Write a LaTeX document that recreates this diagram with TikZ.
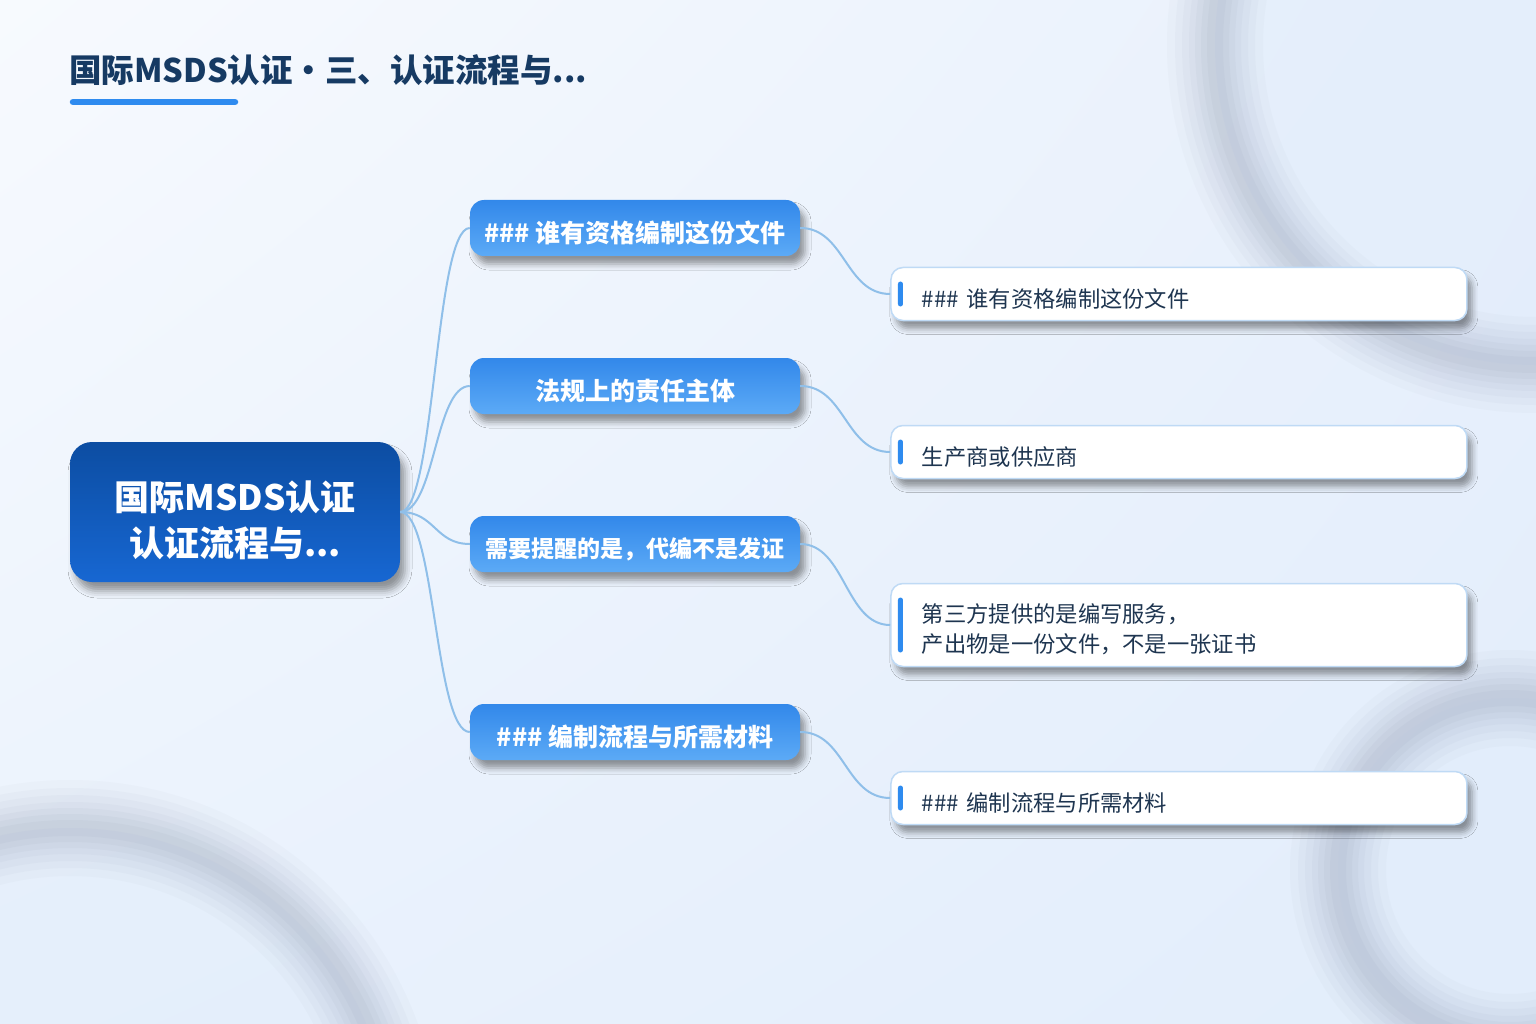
\documentclass[tikz,border=0pt]{standalone}
\usepackage{fontspec}
\setmainfont{Noto Sans CJK SC}
\usetikzlibrary{positioning,shadings,shadows.blur}
\definecolor{bgTL}{HTML}{F7FAFE}
\definecolor{bgTR}{HTML}{E8F0FC}
\definecolor{bgBL}{HTML}{EAF2FD}
\definecolor{bgBR}{HTML}{E2EDFB}
\definecolor{ringgray}{HTML}{8E9AAE}
\definecolor{ringfill}{HTML}{E2EDFB}
\definecolor{titleblue}{HTML}{163A63}
\definecolor{barblue}{HTML}{2E8BEF}
\definecolor{rootTop}{HTML}{0C4DA2}
\definecolor{rootBot}{HTML}{1767D2}
\definecolor{topicTop}{HTML}{3288EA}
\definecolor{topicBot}{HTML}{5CAAF6}
\definecolor{connblue}{HTML}{8FBFE9}
\definecolor{leafline}{HTML}{BFDAF5}
\definecolor{leaftext}{HTML}{1E3550}
\definecolor{accent}{HTML}{2E8BEF}
% move the ink of a node text down, keeping its box
\newcommand\lowered[2]{\raisebox{-#1}[\height][\depth]{#2}}

\begin{document}
\begin{tikzpicture}[x=1pt,y=-1pt,
   conn/.style={draw=connblue,line width=2pt},
   rootbox/.style={rounded corners=22pt,minimum width=330pt,minimum height=140pt,
     top color=rootTop,bottom color=rootBot,text=white,align=center,
     font=\bfseries\fontsize{35}{46}\selectfont,
     blur shadow={shadow xshift=5pt,shadow yshift=-9pt,shadow blur radius=7pt,shadow opacity=40}},
   topic/.style={rounded corners=14pt,minimum width=330pt,minimum height=56pt,inner sep=0pt,
     top color=topicTop,bottom color=topicBot,text=white,
     font=\bfseries\fontsize{25}{28}\selectfont,
     blur shadow={shadow xshift=5pt,shadow yshift=-8pt,shadow blur radius=6pt,shadow opacity=40}},
   leaf/.style={rounded corners=12pt,minimum width=576pt,minimum height=53pt,
     text width=514pt,inner xsep=31pt,inner ysep=6pt,align=left,
     fill=white,draw=leafline,line width=1.5pt,text=leaftext,
     font=\fontsize{22.3}{30}\selectfont,
     blur shadow={shadow xshift=5pt,shadow yshift=-8pt,shadow blur radius=6pt,shadow opacity=40},
     path picture={\fill[accent,rounded corners=2.5pt]
       ([xshift=7pt,yshift=-14pt]path picture bounding box.north west) rectangle
       ([xshift=12pt,yshift=14pt]path picture bounding box.south west);}}]

  % page and soft rings
  \useasboundingbox (0,0) rectangle (1536,1024);
  \clip (0,0) rectangle (1536,1024);
  \shade[upper left=bgTL,upper right=bgTR,lower left=bgBL,lower right=bgBR]
    (0,0) rectangle (1536,1024);
  \foreach \cx/\cy/\r in {1535/45/320, 70/1150/322, 1510/870/172}{
    \fill[ringfill,opacity=.6] (\cx,\cy) circle[radius=\r];
    \foreach \w/\o in {96/.04,80/.05,66/.055,52/.06,40/.07,28/.075,16/.08}
      \draw[ringgray,line width=\w pt,opacity=\o] (\cx,\cy) circle[radius=\r];
  }

  % title
  \node[anchor=west,inner sep=0pt,text=titleblue,font=\bfseries\fontsize{32.5}{36}\selectfont]
    (title) at (69,70) {国际MSDS认证・三、认证流程与...};
  \draw[barblue,line width=6.5pt,line cap=round] (73,102) -- (235,102);

  % root and topics
  \node[rootbox] (root) at (235,512)
    {\lowered{12pt}{\begin{tabular}{@{}c@{}}国际MSDS认证\\认证流程与...\end{tabular}}};
  \node[topic] (ta) at (635,228) {\lowered{5pt}{\#\#\# 谁有资格编制这份文件}};
  \node[topic] (tb) at (635,386) {\lowered{5pt}{法规上的责任主体}};
  \node[topic,font=\bfseries\fontsize{23}{28}\selectfont] (tc) at (635,544)
    {\lowered{5pt}{需要提醒的是，代编不是发证}};
  \node[topic] (td) at (635,732) {\lowered{5pt}{\#\#\# 编制流程与所需材料}};

  % details
  \node[leaf,right=90pt of ta.east,yshift=-66pt] (la) {\lowered{5pt}{\#\#\# 谁有资格编制这份文件}};
  \node[leaf,right=90pt of tb.east,yshift=-66pt] (lb) {\lowered{5pt}{生产商或供应商}};
  \node[leaf,right=90pt of tc.east,yshift=-81pt,minimum height=83pt] (lc)
    {\lowered{6pt}{\begin{tabular}{@{}l@{}}第三方提供的是编写服务，\\产出物是一份文件，不是一张证书\end{tabular}}};
  \node[leaf,right=90pt of td.east,yshift=-66pt] (ld) {\lowered{5pt}{\#\#\# 编制流程与所需材料}};

  \foreach \t in {ta,tb,tc,td}
    \draw[conn] (root.east) .. controls +(35,0) and +(-35,0) .. (\t.west);
  \foreach \t/\l in {ta/la,tb/lb,tc/lc,td/ld}
    \draw[conn] (\t.east) .. controls +(45,0) and +(-45,0) .. (\l.west);
\end{tikzpicture}
\end{document}
